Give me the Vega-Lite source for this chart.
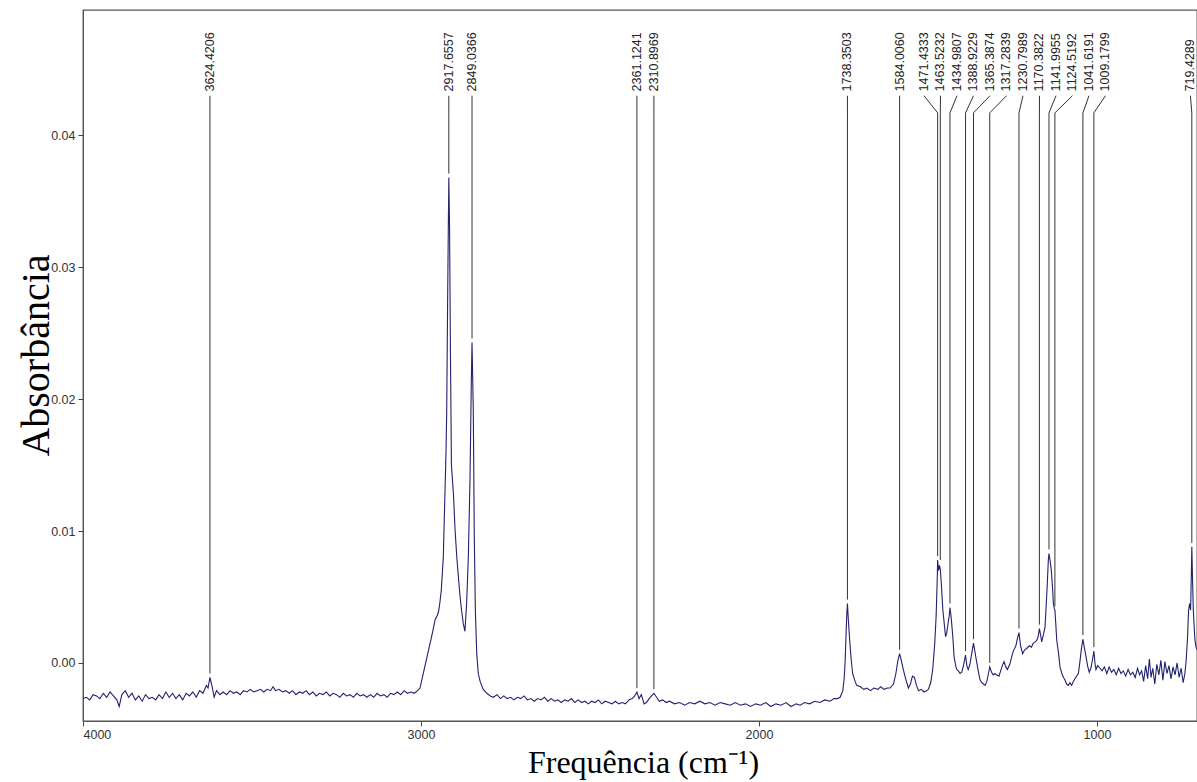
{
  "$schema": "https://vega.github.io/schema/vega-lite/v6.json",
  "autosize": {"type": "none"},
  "padding": {"left": 83, "top": 10, "right": 0, "bottom": 61},
  "width": 1114,
  "height": 711,
  "background": "white",
  "config": {
    "view": {"stroke": "#555555", "strokeWidth": 1.3},
    "axis": {"labelFont": "Liberation Sans", "labelFontSize": 12.5, "labelColor": "#333333", "tickColor": "#444444", "domainColor": "#555555", "grid": false, "titleFont": "Liberation Serif", "titleFontWeight": "normal", "titleColor": "#000000"}
  },
  "datasets": {
    "spectrum": [
      {"wavenumber": 4000, "absorbance": -0.0027}, {"wavenumber": 3990, "absorbance": -0.0026}, {"wavenumber": 3980, "absorbance": -0.0028}, {"wavenumber": 3970, "absorbance": -0.0024}, {"wavenumber": 3960, "absorbance": -0.0025}, {"wavenumber": 3950, "absorbance": -0.0027}, {"wavenumber": 3940, "absorbance": -0.0023}, {"wavenumber": 3930, "absorbance": -0.0026}, {"wavenumber": 3920, "absorbance": -0.0022}, {"wavenumber": 3910, "absorbance": -0.0025}, {"wavenumber": 3900, "absorbance": -0.0028}, {"wavenumber": 3893, "absorbance": -0.0033}, {"wavenumber": 3885, "absorbance": -0.0024}, {"wavenumber": 3875, "absorbance": -0.0021}, {"wavenumber": 3865, "absorbance": -0.0026}, {"wavenumber": 3855, "absorbance": -0.0023}, {"wavenumber": 3845, "absorbance": -0.0028}, {"wavenumber": 3835, "absorbance": -0.0025}, {"wavenumber": 3825, "absorbance": -0.0029}, {"wavenumber": 3815, "absorbance": -0.0024}, {"wavenumber": 3805, "absorbance": -0.0027}, {"wavenumber": 3795, "absorbance": -0.0026}, {"wavenumber": 3785, "absorbance": -0.0028}, {"wavenumber": 3775, "absorbance": -0.0024}, {"wavenumber": 3765, "absorbance": -0.0027}, {"wavenumber": 3755, "absorbance": -0.0022}, {"wavenumber": 3745, "absorbance": -0.0026}, {"wavenumber": 3735, "absorbance": -0.0023}, {"wavenumber": 3725, "absorbance": -0.0027}, {"wavenumber": 3715, "absorbance": -0.0024}, {"wavenumber": 3705, "absorbance": -0.0028}, {"wavenumber": 3695, "absorbance": -0.0023}, {"wavenumber": 3685, "absorbance": -0.0025}, {"wavenumber": 3675, "absorbance": -0.0022}, {"wavenumber": 3665, "absorbance": -0.0026}, {"wavenumber": 3655, "absorbance": -0.0021}, {"wavenumber": 3645, "absorbance": -0.0023}, {"wavenumber": 3635, "absorbance": -0.0017}, {"wavenumber": 3630, "absorbance": -0.0019}, {"wavenumber": 3624.4, "absorbance": -0.0011}, {"wavenumber": 3618, "absorbance": -0.0018}, {"wavenumber": 3612, "absorbance": -0.0026}, {"wavenumber": 3605, "absorbance": -0.0021}, {"wavenumber": 3595, "absorbance": -0.0024}, {"wavenumber": 3585, "absorbance": -0.0022}, {"wavenumber": 3575, "absorbance": -0.0024}, {"wavenumber": 3565, "absorbance": -0.0021}, {"wavenumber": 3555, "absorbance": -0.0023}, {"wavenumber": 3545, "absorbance": -0.0022}, {"wavenumber": 3535, "absorbance": -0.0024}, {"wavenumber": 3525, "absorbance": -0.0021}, {"wavenumber": 3515, "absorbance": -0.0022}, {"wavenumber": 3505, "absorbance": -0.002}, {"wavenumber": 3495, "absorbance": -0.0022}, {"wavenumber": 3485, "absorbance": -0.0021}, {"wavenumber": 3475, "absorbance": -0.002}, {"wavenumber": 3465, "absorbance": -0.0022}, {"wavenumber": 3455, "absorbance": -0.002}, {"wavenumber": 3445, "absorbance": -0.0021}, {"wavenumber": 3438, "absorbance": -0.0018}, {"wavenumber": 3430, "absorbance": -0.0021}, {"wavenumber": 3420, "absorbance": -0.002}, {"wavenumber": 3410, "absorbance": -0.0022}, {"wavenumber": 3400, "absorbance": -0.0021}, {"wavenumber": 3390, "absorbance": -0.0023}, {"wavenumber": 3380, "absorbance": -0.0021}, {"wavenumber": 3370, "absorbance": -0.0024}, {"wavenumber": 3360, "absorbance": -0.0022}, {"wavenumber": 3350, "absorbance": -0.0023}, {"wavenumber": 3340, "absorbance": -0.0021}, {"wavenumber": 3330, "absorbance": -0.0024}, {"wavenumber": 3320, "absorbance": -0.0022}, {"wavenumber": 3310, "absorbance": -0.0025}, {"wavenumber": 3300, "absorbance": -0.0023}, {"wavenumber": 3290, "absorbance": -0.0024}, {"wavenumber": 3280, "absorbance": -0.0022}, {"wavenumber": 3270, "absorbance": -0.0025}, {"wavenumber": 3260, "absorbance": -0.0023}, {"wavenumber": 3250, "absorbance": -0.0024}, {"wavenumber": 3240, "absorbance": -0.0026}, {"wavenumber": 3230, "absorbance": -0.0023}, {"wavenumber": 3220, "absorbance": -0.0025}, {"wavenumber": 3210, "absorbance": -0.0024}, {"wavenumber": 3200, "absorbance": -0.0026}, {"wavenumber": 3190, "absorbance": -0.0023}, {"wavenumber": 3180, "absorbance": -0.0025}, {"wavenumber": 3170, "absorbance": -0.0024}, {"wavenumber": 3160, "absorbance": -0.0026}, {"wavenumber": 3150, "absorbance": -0.0024}, {"wavenumber": 3140, "absorbance": -0.0026}, {"wavenumber": 3130, "absorbance": -0.0023}, {"wavenumber": 3120, "absorbance": -0.0025}, {"wavenumber": 3110, "absorbance": -0.0024}, {"wavenumber": 3100, "absorbance": -0.0026}, {"wavenumber": 3090, "absorbance": -0.0023}, {"wavenumber": 3080, "absorbance": -0.0024}, {"wavenumber": 3070, "absorbance": -0.0022}, {"wavenumber": 3060, "absorbance": -0.0024}, {"wavenumber": 3050, "absorbance": -0.0021}, {"wavenumber": 3040, "absorbance": -0.0023}, {"wavenumber": 3030, "absorbance": -0.0022}, {"wavenumber": 3020, "absorbance": -0.0023}, {"wavenumber": 3010, "absorbance": -0.0021}, {"wavenumber": 3003, "absorbance": -0.0019}, {"wavenumber": 2995, "absorbance": -0.001}, {"wavenumber": 2988, "absorbance": -0.0002}, {"wavenumber": 2980, "absorbance": 0.0007}, {"wavenumber": 2973, "absorbance": 0.0015}, {"wavenumber": 2966, "absorbance": 0.0023}, {"wavenumber": 2958, "absorbance": 0.0033}, {"wavenumber": 2952, "absorbance": 0.0036}, {"wavenumber": 2948, "absorbance": 0.0039}, {"wavenumber": 2944, "absorbance": 0.0046}, {"wavenumber": 2940, "absorbance": 0.0055}, {"wavenumber": 2934, "absorbance": 0.008}, {"wavenumber": 2929, "absorbance": 0.013}, {"wavenumber": 2926, "absorbance": 0.016}, {"wavenumber": 2924, "absorbance": 0.0189}, {"wavenumber": 2921, "absorbance": 0.028}, {"wavenumber": 2919, "absorbance": 0.0335}, {"wavenumber": 2917.66, "absorbance": 0.0368}, {"wavenumber": 2915.5, "absorbance": 0.033}, {"wavenumber": 2913, "absorbance": 0.024}, {"wavenumber": 2910, "absorbance": 0.015}, {"wavenumber": 2904, "absorbance": 0.0128}, {"wavenumber": 2899, "absorbance": 0.01}, {"wavenumber": 2894, "absorbance": 0.008}, {"wavenumber": 2889, "absorbance": 0.0064}, {"wavenumber": 2884.6, "absorbance": 0.0051}, {"wavenumber": 2880, "absorbance": 0.004}, {"wavenumber": 2875, "absorbance": 0.003}, {"wavenumber": 2870, "absorbance": 0.0024}, {"wavenumber": 2865, "absorbance": 0.0045}, {"wavenumber": 2860, "absorbance": 0.008}, {"wavenumber": 2855, "absorbance": 0.0139}, {"wavenumber": 2851, "absorbance": 0.0215}, {"wavenumber": 2849.04, "absorbance": 0.0243}, {"wavenumber": 2845.3, "absorbance": 0.0192}, {"wavenumber": 2842.3, "absorbance": 0.0095}, {"wavenumber": 2839, "absorbance": 0.0038}, {"wavenumber": 2835, "absorbance": 0.0007}, {"wavenumber": 2830.5, "absorbance": -0.0008}, {"wavenumber": 2825, "absorbance": -0.0014}, {"wavenumber": 2816, "absorbance": -0.002}, {"wavenumber": 2805, "absorbance": -0.0023}, {"wavenumber": 2795, "absorbance": -0.0025}, {"wavenumber": 2786, "absorbance": -0.0026}, {"wavenumber": 2775, "absorbance": -0.0024}, {"wavenumber": 2765, "absorbance": -0.0027}, {"wavenumber": 2755, "absorbance": -0.0025}, {"wavenumber": 2745, "absorbance": -0.0027}, {"wavenumber": 2735, "absorbance": -0.0026}, {"wavenumber": 2725, "absorbance": -0.0028}, {"wavenumber": 2715, "absorbance": -0.0026}, {"wavenumber": 2705, "absorbance": -0.0027}, {"wavenumber": 2695, "absorbance": -0.0025}, {"wavenumber": 2685, "absorbance": -0.0028}, {"wavenumber": 2675, "absorbance": -0.0027}, {"wavenumber": 2665, "absorbance": -0.0029}, {"wavenumber": 2655, "absorbance": -0.0027}, {"wavenumber": 2645, "absorbance": -0.0028}, {"wavenumber": 2635, "absorbance": -0.0026}, {"wavenumber": 2625, "absorbance": -0.0029}, {"wavenumber": 2615, "absorbance": -0.0027}, {"wavenumber": 2605, "absorbance": -0.0029}, {"wavenumber": 2595, "absorbance": -0.0028}, {"wavenumber": 2585, "absorbance": -0.003}, {"wavenumber": 2575, "absorbance": -0.0028}, {"wavenumber": 2565, "absorbance": -0.0029}, {"wavenumber": 2555, "absorbance": -0.0027}, {"wavenumber": 2545, "absorbance": -0.003}, {"wavenumber": 2535, "absorbance": -0.0028}, {"wavenumber": 2525, "absorbance": -0.003}, {"wavenumber": 2515, "absorbance": -0.0029}, {"wavenumber": 2505, "absorbance": -0.0031}, {"wavenumber": 2495, "absorbance": -0.0029}, {"wavenumber": 2485, "absorbance": -0.003}, {"wavenumber": 2475, "absorbance": -0.0028}, {"wavenumber": 2465, "absorbance": -0.0031}, {"wavenumber": 2455, "absorbance": -0.0029}, {"wavenumber": 2445, "absorbance": -0.003}, {"wavenumber": 2435, "absorbance": -0.0031}, {"wavenumber": 2425, "absorbance": -0.0029}, {"wavenumber": 2415, "absorbance": -0.0031}, {"wavenumber": 2405, "absorbance": -0.003}, {"wavenumber": 2395, "absorbance": -0.0031}, {"wavenumber": 2385, "absorbance": -0.0028}, {"wavenumber": 2375, "absorbance": -0.0027}, {"wavenumber": 2368, "absorbance": -0.0025}, {"wavenumber": 2361.12, "absorbance": -0.0022}, {"wavenumber": 2355, "absorbance": -0.0027}, {"wavenumber": 2348, "absorbance": -0.0024}, {"wavenumber": 2340, "absorbance": -0.0031}, {"wavenumber": 2333, "absorbance": -0.003}, {"wavenumber": 2325, "absorbance": -0.0027}, {"wavenumber": 2318, "absorbance": -0.0025}, {"wavenumber": 2310.9, "absorbance": -0.0023}, {"wavenumber": 2303, "absorbance": -0.0026}, {"wavenumber": 2295, "absorbance": -0.0029}, {"wavenumber": 2285, "absorbance": -0.0028}, {"wavenumber": 2275, "absorbance": -0.003}, {"wavenumber": 2265, "absorbance": -0.0029}, {"wavenumber": 2250, "absorbance": -0.0031}, {"wavenumber": 2235, "absorbance": -0.003}, {"wavenumber": 2220, "absorbance": -0.0032}, {"wavenumber": 2205, "absorbance": -0.003}, {"wavenumber": 2190, "absorbance": -0.0031}, {"wavenumber": 2175, "absorbance": -0.0029}, {"wavenumber": 2160, "absorbance": -0.0031}, {"wavenumber": 2145, "absorbance": -0.003}, {"wavenumber": 2130, "absorbance": -0.0032}, {"wavenumber": 2115, "absorbance": -0.003}, {"wavenumber": 2100, "absorbance": -0.0031}, {"wavenumber": 2085, "absorbance": -0.0032}, {"wavenumber": 2070, "absorbance": -0.003}, {"wavenumber": 2055, "absorbance": -0.0032}, {"wavenumber": 2040, "absorbance": -0.0031}, {"wavenumber": 2025, "absorbance": -0.0033}, {"wavenumber": 2010, "absorbance": -0.0031}, {"wavenumber": 1995, "absorbance": -0.0032}, {"wavenumber": 1980, "absorbance": -0.003}, {"wavenumber": 1965, "absorbance": -0.0033}, {"wavenumber": 1950, "absorbance": -0.0031}, {"wavenumber": 1935, "absorbance": -0.0032}, {"wavenumber": 1920, "absorbance": -0.003}, {"wavenumber": 1905, "absorbance": -0.0033}, {"wavenumber": 1890, "absorbance": -0.0031}, {"wavenumber": 1878, "absorbance": -0.0032}, {"wavenumber": 1865, "absorbance": -0.003}, {"wavenumber": 1850, "absorbance": -0.0031}, {"wavenumber": 1835, "absorbance": -0.0029}, {"wavenumber": 1820, "absorbance": -0.003}, {"wavenumber": 1805, "absorbance": -0.0028}, {"wavenumber": 1790, "absorbance": -0.0029}, {"wavenumber": 1778, "absorbance": -0.0027}, {"wavenumber": 1768, "absorbance": -0.0027}, {"wavenumber": 1760, "absorbance": -0.0026}, {"wavenumber": 1752, "absorbance": -0.0021}, {"wavenumber": 1748, "absorbance": -0.0012}, {"wavenumber": 1745, "absorbance": 0.0002}, {"wavenumber": 1742, "absorbance": 0.0025}, {"wavenumber": 1740, "absorbance": 0.0038}, {"wavenumber": 1738.35, "absorbance": 0.0045}, {"wavenumber": 1735, "absorbance": 0.003}, {"wavenumber": 1731, "absorbance": 0.0015}, {"wavenumber": 1727, "absorbance": 0.0002}, {"wavenumber": 1723, "absorbance": -0.0008}, {"wavenumber": 1717, "absorbance": -0.0013}, {"wavenumber": 1711, "absorbance": -0.0017}, {"wavenumber": 1700, "absorbance": -0.0018}, {"wavenumber": 1690, "absorbance": -0.002}, {"wavenumber": 1681, "absorbance": -0.0019}, {"wavenumber": 1670, "absorbance": -0.0021}, {"wavenumber": 1660, "absorbance": -0.0019}, {"wavenumber": 1648, "absorbance": -0.002}, {"wavenumber": 1640, "absorbance": -0.0018}, {"wavenumber": 1630, "absorbance": -0.002}, {"wavenumber": 1620, "absorbance": -0.0019}, {"wavenumber": 1612, "absorbance": -0.0019}, {"wavenumber": 1602, "absorbance": -0.0016}, {"wavenumber": 1595, "absorbance": -0.0008}, {"wavenumber": 1589, "absorbance": 0.0002}, {"wavenumber": 1584.0, "absorbance": 0.0007}, {"wavenumber": 1580, "absorbance": 0.0003}, {"wavenumber": 1573, "absorbance": -0.0005}, {"wavenumber": 1566, "absorbance": -0.0012}, {"wavenumber": 1558, "absorbance": -0.0019}, {"wavenumber": 1552, "absorbance": -0.0016}, {"wavenumber": 1546, "absorbance": -0.001}, {"wavenumber": 1540, "absorbance": -0.0011}, {"wavenumber": 1534, "absorbance": -0.0017}, {"wavenumber": 1528, "absorbance": -0.0021}, {"wavenumber": 1520, "absorbance": -0.002}, {"wavenumber": 1512, "absorbance": -0.0022}, {"wavenumber": 1505, "absorbance": -0.0021}, {"wavenumber": 1499, "absorbance": -0.002}, {"wavenumber": 1492, "absorbance": -0.0015}, {"wavenumber": 1486, "absorbance": -0.0005}, {"wavenumber": 1480, "absorbance": 0.0015}, {"wavenumber": 1476, "absorbance": 0.0035}, {"wavenumber": 1473, "absorbance": 0.006}, {"wavenumber": 1471.43, "absorbance": 0.0078}, {"wavenumber": 1469, "absorbance": 0.007}, {"wavenumber": 1466, "absorbance": 0.0074}, {"wavenumber": 1463.52, "absorbance": 0.0071}, {"wavenumber": 1460, "absorbance": 0.0058}, {"wavenumber": 1456, "absorbance": 0.004}, {"wavenumber": 1452, "absorbance": 0.003}, {"wavenumber": 1448, "absorbance": 0.002}, {"wavenumber": 1445, "absorbance": 0.0022}, {"wavenumber": 1441.7, "absorbance": 0.0028}, {"wavenumber": 1437, "absorbance": 0.0036}, {"wavenumber": 1434.98, "absorbance": 0.0042}, {"wavenumber": 1432, "absorbance": 0.0036}, {"wavenumber": 1429.9, "absorbance": 0.003}, {"wavenumber": 1426, "absorbance": 0.0018}, {"wavenumber": 1423, "absorbance": 0.0005}, {"wavenumber": 1418, "absorbance": -0.0002}, {"wavenumber": 1415, "absorbance": -0.0005}, {"wavenumber": 1410, "absorbance": -0.0006}, {"wavenumber": 1405, "absorbance": -0.0008}, {"wavenumber": 1400, "absorbance": -0.0007}, {"wavenumber": 1395, "absorbance": -0.0002}, {"wavenumber": 1389, "absorbance": 0.0006}, {"wavenumber": 1385, "absorbance": -0.0002}, {"wavenumber": 1381, "absorbance": -0.0005}, {"wavenumber": 1376, "absorbance": -0.0001}, {"wavenumber": 1370, "absorbance": 0.0008}, {"wavenumber": 1365.4, "absorbance": 0.0015}, {"wavenumber": 1362, "absorbance": 0.001}, {"wavenumber": 1358.9, "absorbance": 0.0005}, {"wavenumber": 1352, "absorbance": -0.0005}, {"wavenumber": 1346, "absorbance": -0.0013}, {"wavenumber": 1340, "absorbance": -0.0015}, {"wavenumber": 1331, "absorbance": -0.0017}, {"wavenumber": 1326, "absorbance": -0.0014}, {"wavenumber": 1321, "absorbance": -0.0008}, {"wavenumber": 1317.3, "absorbance": -0.0003}, {"wavenumber": 1312, "absorbance": -0.0007}, {"wavenumber": 1307, "absorbance": -0.0009}, {"wavenumber": 1302, "absorbance": -0.0008}, {"wavenumber": 1297, "absorbance": -0.0009}, {"wavenumber": 1290, "absorbance": -0.001}, {"wavenumber": 1285, "absorbance": -0.0006}, {"wavenumber": 1280, "absorbance": -0.0002}, {"wavenumber": 1275, "absorbance": 0.0001}, {"wavenumber": 1270, "absorbance": -0.0003}, {"wavenumber": 1265, "absorbance": -0.0005}, {"wavenumber": 1258, "absorbance": -0.0001}, {"wavenumber": 1252, "absorbance": 0.0005}, {"wavenumber": 1247.6, "absorbance": 0.0009}, {"wavenumber": 1240, "absorbance": 0.0013}, {"wavenumber": 1235, "absorbance": 0.0019}, {"wavenumber": 1230.8, "absorbance": 0.0023}, {"wavenumber": 1226, "absorbance": 0.0013}, {"wavenumber": 1220, "absorbance": 0.0007}, {"wavenumber": 1214, "absorbance": 0.001}, {"wavenumber": 1208, "absorbance": 0.0011}, {"wavenumber": 1200, "absorbance": 0.0013}, {"wavenumber": 1194, "absorbance": 0.0012}, {"wavenumber": 1188.5, "absorbance": 0.0015}, {"wavenumber": 1183, "absorbance": 0.0016}, {"wavenumber": 1178.4, "absorbance": 0.0017}, {"wavenumber": 1174, "absorbance": 0.002}, {"wavenumber": 1170.4, "absorbance": 0.0026}, {"wavenumber": 1166, "absorbance": 0.002}, {"wavenumber": 1163.6, "absorbance": 0.0016}, {"wavenumber": 1158, "absorbance": 0.0022}, {"wavenumber": 1153.8, "absorbance": 0.0027}, {"wavenumber": 1150, "absorbance": 0.0045}, {"wavenumber": 1147, "absorbance": 0.006}, {"wavenumber": 1144, "absorbance": 0.0078}, {"wavenumber": 1142.0, "absorbance": 0.0083}, {"wavenumber": 1139, "absorbance": 0.0078}, {"wavenumber": 1135, "absorbance": 0.007}, {"wavenumber": 1131, "absorbance": 0.0055}, {"wavenumber": 1129, "absorbance": 0.0045}, {"wavenumber": 1126, "absorbance": 0.0041}, {"wavenumber": 1124.5, "absorbance": 0.004}, {"wavenumber": 1122, "absorbance": 0.003}, {"wavenumber": 1119, "absorbance": 0.0017}, {"wavenumber": 1114, "absorbance": 0.0008}, {"wavenumber": 1109.5, "absorbance": -0.0003}, {"wavenumber": 1104, "absorbance": -0.0008}, {"wavenumber": 1099, "absorbance": -0.0011}, {"wavenumber": 1094.7, "absorbance": -0.0013}, {"wavenumber": 1090, "absorbance": -0.0016}, {"wavenumber": 1085, "absorbance": -0.0017}, {"wavenumber": 1080, "absorbance": -0.0015}, {"wavenumber": 1075, "absorbance": -0.0017}, {"wavenumber": 1070, "absorbance": -0.0014}, {"wavenumber": 1063, "absorbance": -0.0011}, {"wavenumber": 1055, "absorbance": -0.0008}, {"wavenumber": 1050, "absorbance": 0.0002}, {"wavenumber": 1046, "absorbance": 0.0011}, {"wavenumber": 1041.6, "absorbance": 0.0018}, {"wavenumber": 1037, "absorbance": 0.0011}, {"wavenumber": 1032.5, "absorbance": 0.0005}, {"wavenumber": 1028, "absorbance": -0.0002}, {"wavenumber": 1023, "absorbance": -0.0007}, {"wavenumber": 1018, "absorbance": -0.0004}, {"wavenumber": 1013, "absorbance": 0.0003}, {"wavenumber": 1009.2, "absorbance": 0.0009}, {"wavenumber": 1006, "absorbance": 0.0}, {"wavenumber": 1003, "absorbance": -0.0005}, {"wavenumber": 998, "absorbance": -0.0002}, {"wavenumber": 991, "absorbance": -0.0004}, {"wavenumber": 985, "absorbance": -0.0006}, {"wavenumber": 978, "absorbance": -0.0003}, {"wavenumber": 971, "absorbance": -0.0008}, {"wavenumber": 964, "absorbance": -0.0003}, {"wavenumber": 957, "absorbance": -0.0007}, {"wavenumber": 950, "absorbance": -0.0005}, {"wavenumber": 943, "absorbance": -0.0009}, {"wavenumber": 936, "absorbance": -0.0004}, {"wavenumber": 929, "absorbance": -0.0008}, {"wavenumber": 922, "absorbance": -0.0006}, {"wavenumber": 915, "absorbance": -0.001}, {"wavenumber": 908, "absorbance": -0.0005}, {"wavenumber": 901, "absorbance": -0.0009}, {"wavenumber": 894, "absorbance": -0.0007}, {"wavenumber": 887, "absorbance": -0.0011}, {"wavenumber": 880, "absorbance": -0.0004}, {"wavenumber": 874, "absorbance": -0.0009}, {"wavenumber": 868, "absorbance": -0.0006}, {"wavenumber": 862, "absorbance": -0.0014}, {"wavenumber": 856, "absorbance": -0.0002}, {"wavenumber": 850, "absorbance": -0.0012}, {"wavenumber": 845, "absorbance": 0.0003}, {"wavenumber": 840, "absorbance": -0.0011}, {"wavenumber": 835, "absorbance": -0.0004}, {"wavenumber": 829, "absorbance": -0.0016}, {"wavenumber": 823, "absorbance": -0.0001}, {"wavenumber": 817, "absorbance": -0.0009}, {"wavenumber": 811, "absorbance": 0.0002}, {"wavenumber": 805, "absorbance": -0.0013}, {"wavenumber": 799, "absorbance": 0.0001}, {"wavenumber": 793, "absorbance": -0.0008}, {"wavenumber": 787, "absorbance": -0.0002}, {"wavenumber": 781, "absorbance": -0.0012}, {"wavenumber": 775, "absorbance": -0.0003}, {"wavenumber": 769, "absorbance": -0.0009}, {"wavenumber": 763, "absorbance": 0.0}, {"wavenumber": 757, "absorbance": -0.0011}, {"wavenumber": 751, "absorbance": -0.0004}, {"wavenumber": 745, "absorbance": -0.0015}, {"wavenumber": 740, "absorbance": -0.0008}, {"wavenumber": 736, "absorbance": 0.0002}, {"wavenumber": 732, "absorbance": 0.002}, {"wavenumber": 729, "absorbance": 0.004}, {"wavenumber": 726, "absorbance": 0.0045}, {"wavenumber": 723, "absorbance": 0.004}, {"wavenumber": 721, "absorbance": 0.0065}, {"wavenumber": 719.43, "absorbance": 0.0088}, {"wavenumber": 717, "absorbance": 0.006}, {"wavenumber": 715, "absorbance": 0.004}, {"wavenumber": 712, "absorbance": 0.0025}, {"wavenumber": 710, "absorbance": 0.0017}, {"wavenumber": 707, "absorbance": 0.0012}, {"wavenumber": 704, "absorbance": 0.001}
    ],
    "peaks": [
      {"peak": 3624.4206, "label": "3624.4206", "absorbance": -0.0011, "label_at": 3624.4206},
      {"peak": 2917.6557, "label": "2917.6557", "absorbance": 0.0368, "label_at": 2917.6557},
      {"peak": 2849.0366, "label": "2849.0366", "absorbance": 0.0243, "label_at": 2849.0366},
      {"peak": 2361.1241, "label": "2361.1241", "absorbance": -0.0022, "label_at": 2361.1241},
      {"peak": 2310.8969, "label": "2310.8969", "absorbance": -0.0023, "label_at": 2310.8969},
      {"peak": 1738.3503, "label": "1738.3503", "absorbance": 0.0045, "label_at": 1738.3503},
      {"peak": 1584.006, "label": "1584.0060", "absorbance": 0.0007, "label_at": 1584.006},
      {"peak": 1471.4333, "label": "1471.4333", "absorbance": 0.0078, "label_at": 1511.8},
      {"peak": 1463.5232, "label": "1463.5232", "absorbance": 0.0075, "label_at": 1463.0},
      {"peak": 1434.9807, "label": "1434.9807", "absorbance": 0.0042, "label_at": 1414.2},
      {"peak": 1388.9229, "label": "1388.9229", "absorbance": 0.0006, "label_at": 1365.4},
      {"peak": 1365.3874, "label": "1365.3874", "absorbance": 0.0015, "label_at": 1316.6},
      {"peak": 1317.2839, "label": "1317.2839", "absorbance": -0.0003, "label_at": 1267.8},
      {"peak": 1230.7989, "label": "1230.7989", "absorbance": 0.0023, "label_at": 1218.9},
      {"peak": 1170.3822, "label": "1170.3822", "absorbance": 0.0026, "label_at": 1170.1},
      {"peak": 1141.9955, "label": "1141.9955", "absorbance": 0.0083, "label_at": 1121.3},
      {"peak": 1124.5192, "label": "1124.5192", "absorbance": 0.004, "label_at": 1072.5},
      {"peak": 1041.6191, "label": "1041.6191", "absorbance": 0.0018, "label_at": 1023.7},
      {"peak": 1009.1799, "label": "1009.1799", "absorbance": 0.0009, "label_at": 974.9},
      {"peak": 719.4289, "label": "719.4289", "absorbance": 0.0088, "label_at": 723.5}
    ]
  },
  "layer": [
    {
      "data": {"name": "spectrum"},
      "mark": {"type": "line", "color": "#22226e", "strokeWidth": 1.1, "clip": true},
      "encoding": {
        "x": {"field": "wavenumber", "type": "quantitative", "scale": {"domain": [704.1, 4000], "reverse": true, "nice": false, "zero": false},
          "axis": {"values": [4000, 3000, 2000, 1000], "format": "d", "tickSize": 5, "labelPadding": 2, "title": "Frequência (cm⁻¹)", "titleFontSize": 32, "titleX": 560, "titleY": 51, "titleAlign": "center", "titleBaseline": "alphabetic"}},
        "y": {"field": "absorbance", "type": "quantitative", "scale": {"domain": [-0.0044, 0.0495], "nice": false, "zero": false},
          "axis": {"values": [0, 0.01, 0.02, 0.03, 0.04], "format": ".2f", "tickSize": 5, "labelPadding": 3, "title": "Absorbância", "titleFontSize": 40, "titleX": -35, "titleY": 345, "titleAngle": -90, "titleAlign": "center", "titleBaseline": "alphabetic"}}
      }
    },
    {
      "data": {"name": "peaks"},
      "transform": [{"calculate": "0.043", "as": "connector_top"}, {"calculate": "0.0417", "as": "connector_bottom"}],
      "mark": {"type": "rule", "color": "#333333", "strokeWidth": 1, "clip": true},
      "encoding": {
        "x": {"field": "label_at", "type": "quantitative"},
        "x2": {"field": "peak"},
        "y": {"field": "connector_top", "type": "quantitative"},
        "y2": {"field": "connector_bottom"}
      }
    },
    {
      "data": {"name": "peaks"},
      "transform": [{"calculate": "0.0417", "as": "connector_bottom"}],
      "mark": {"type": "rule", "color": "#333333", "strokeWidth": 1, "y2Offset": -4, "clip": true},
      "encoding": {
        "x": {"field": "peak", "type": "quantitative"},
        "y": {"field": "connector_bottom", "type": "quantitative"},
        "y2": {"field": "absorbance"}
      }
    },
    {
      "data": {"name": "peaks"},
      "transform": [{"calculate": "0.04333", "as": "label_base"}],
      "mark": {"type": "text", "angle": 270, "align": "left", "baseline": "middle", "font": "Liberation Sans", "fontSize": 12.5, "color": "#222222"},
      "encoding": {
        "x": {"field": "label_at", "type": "quantitative"},
        "y": {"field": "label_base", "type": "quantitative"},
        "text": {"field": "label"}
      }
    }
  ]
}
